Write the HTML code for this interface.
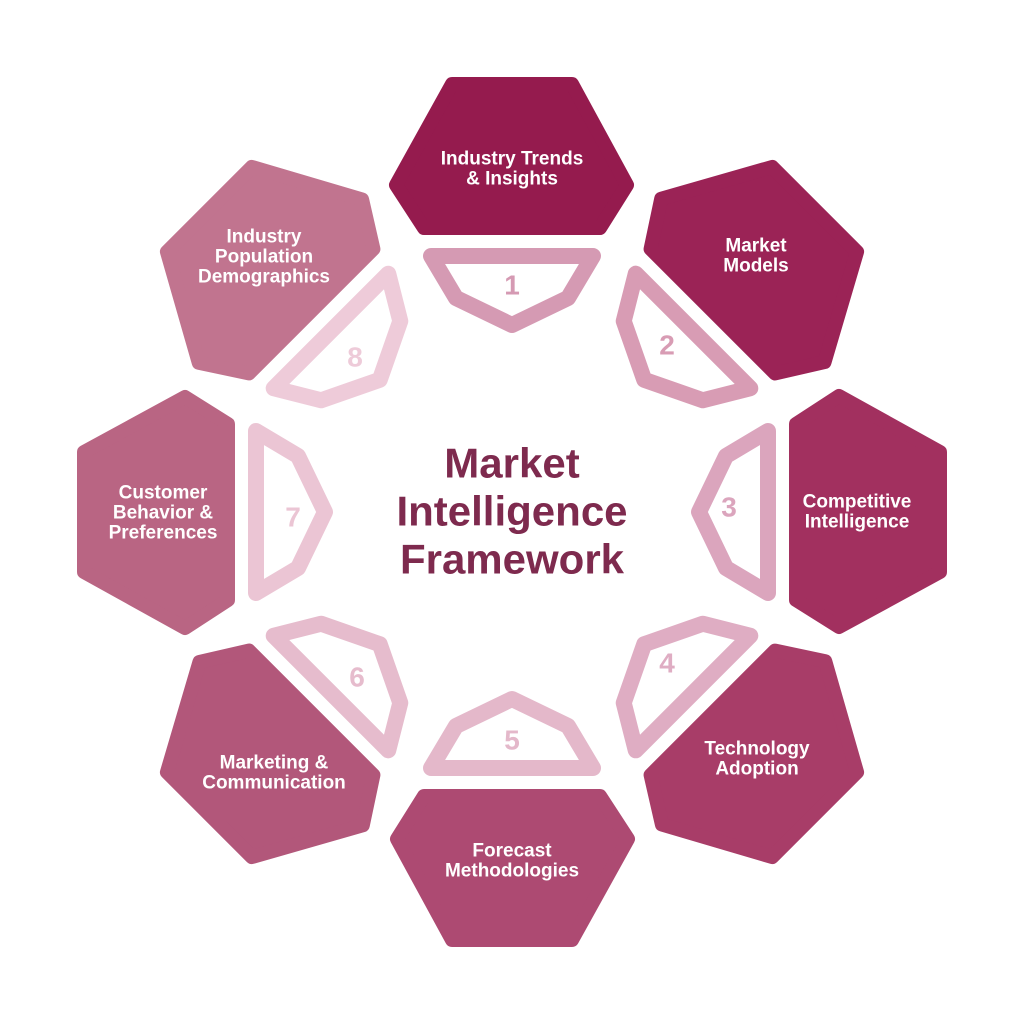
<!DOCTYPE html>
<html><head><style>html,body{margin:0;padding:0;background:#fff}svg{display:block}</style></head>
<body>
<svg width="1024" height="1024" viewBox="0 0 1024 1024" xmlns="http://www.w3.org/2000/svg">
<defs>
<path id="hex" d="M452,84 L572,84 L627,185 L600,228 L424,228 L396,185 Z" stroke-linejoin="round" stroke-width="14"/>
<path id="tri" d="M431,256 L593,256 L568,298 L512,325 L456,298 Z" fill="none" stroke-linejoin="round" stroke-width="16"/>
</defs>
<g>
<use href="#hex" transform="rotate(0 512 512)" fill="#951b4e" stroke="#951b4e"/>
<use href="#hex" transform="rotate(45 512 512)" fill="#9b2356" stroke="#9b2356"/>
<use href="#hex" transform="rotate(90 512 512)" fill="#a2305f" stroke="#a2305f"/>
<use href="#hex" transform="rotate(135 512 512)" fill="#a83d68" stroke="#a83d68"/>
<use href="#hex" transform="rotate(180 512 512)" fill="#ad4a72" stroke="#ad4a72"/>
<use href="#hex" transform="rotate(225 512 512)" fill="#b2577a" stroke="#b2577a"/>
<use href="#hex" transform="rotate(270 512 512)" fill="#b96583" stroke="#b96583"/>
<use href="#hex" transform="rotate(315 512 512)" fill="#c1748f" stroke="#c1748f"/>
<use href="#tri" transform="rotate(0 512 512)" stroke="#d59ab3"/>
<use href="#tri" transform="rotate(45 512 512)" stroke="#d89cb4"/>
<use href="#tri" transform="rotate(90 512 512)" stroke="#dba5bd"/>
<use href="#tri" transform="rotate(135 512 512)" stroke="#dfadc3"/>
<use href="#tri" transform="rotate(180 512 512)" stroke="#e4b8ca"/>
<use href="#tri" transform="rotate(225 512 512)" stroke="#e6bccd"/>
<use href="#tri" transform="rotate(270 512 512)" stroke="#ebc5d4"/>
<use href="#tri" transform="rotate(315 512 512)" stroke="#eecbd9"/>
</g>
<g font-family="Liberation Sans, sans-serif" font-weight="bold" font-size="28" text-anchor="middle" dominant-baseline="central">
<text x="512" y="285" fill="#d59ab3">1</text>
<text x="667" y="345" fill="#d89cb4">2</text>
<text x="729" y="507" fill="#dba5bd">3</text>
<text x="667" y="663" fill="#dfadc3">4</text>
<text x="512" y="740" fill="#e4b8ca">5</text>
<text x="357" y="677" fill="#e6bccd">6</text>
<text x="293" y="517" fill="#ebc5d4">7</text>
<text x="355" y="357" fill="#eecbd9">8</text>
</g>
<g font-family="Liberation Sans, sans-serif" font-weight="bold" font-size="19" fill="#fff" text-anchor="middle" dominant-baseline="central">
<text x="512" y="159">Industry Trends</text><text x="512" y="179">&amp; Insights</text>
<text x="756" y="246">Market</text><text x="756" y="266">Models</text>
<text x="857" y="502">Competitive</text><text x="857" y="522">Intelligence</text>
<text x="757" y="749">Technology</text><text x="757" y="769">Adoption</text>
<text x="512" y="851">Forecast</text><text x="512" y="871">Methodologies</text>
<text x="274" y="763">Marketing &amp;</text><text x="274" y="783">Communication</text>
<text x="163" y="493">Customer</text><text x="163" y="513">Behavior &amp;</text><text x="163" y="533">Preferences</text>
<text x="264" y="237">Industry</text><text x="264" y="257">Population</text><text x="264" y="277">Demographics</text>
</g>
<g font-family="Liberation Sans, sans-serif" font-weight="bold" font-size="42" fill="#7e2a4e" text-anchor="middle" dominant-baseline="central">
<text x="512" y="463">Market</text>
<text x="512" y="511">Intelligence</text>
<text x="512" y="559">Framework</text>
</g>
</svg>
</body></html>
